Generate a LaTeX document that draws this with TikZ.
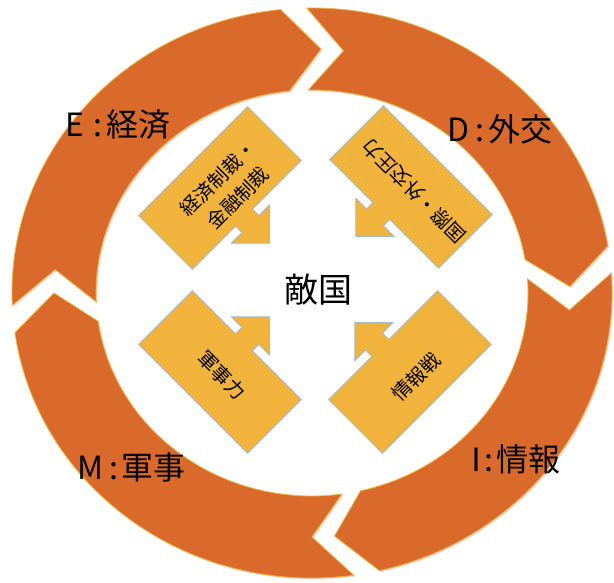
\documentclass[tikz,border=0pt]{standalone}
\usepackage{fontspec}
\setmainfont{Noto Sans CJK JP}
\definecolor{ringfill}{HTML}{D96A2B}
\definecolor{ringedge}{HTML}{F0B53E}
\definecolor{arrfill}{HTML}{F2B33C}
\definecolor{arredge}{HTML}{9FBBD0}
\newcommand\ringseg[2]{%
  \fill[black,opacity=0.12,shift={(1.5,1.5)}] (#1:300pt and 285pt)
    arc[start angle=#1, end angle=#2, x radius=300pt, y radius=285pt]
    -- ({#2-8}:258pt and 244pt) -- (#2:216pt and 203pt)
    arc[start angle=#2, end angle=#1, x radius=216pt, y radius=203pt]
    -- ({#1-8}:258pt and 244pt) -- cycle;
  \filldraw[ringpiece] (#1:300pt and 285pt)
    arc[start angle=#1, end angle=#2, x radius=300pt, y radius=285pt]
    -- ({#2-8}:258pt and 244pt) -- (#2:216pt and 203pt)
    arc[start angle=#2, end angle=#1, x radius=216pt, y radius=203pt]
    -- ({#1-8}:258pt and 244pt) -- cycle;}
% #1 centre, #2 pointing angle, #3 half length, #4 half width, #5 head offset along body
\newcommand\calloutarrow[5]{%
  \begin{scope}[shift={#1}, rotate=#2]
  \filldraw[inarrow] (-#4pt,-#3pt) -- (#4pt,-#3pt) -- (#4pt,#5pt-12pt)
    -- (#4pt+9pt,#5pt-12pt) -- (#4pt+9pt,#5pt-27pt) -- (#4pt+36pt,#5pt)
    -- (#4pt+9pt,#5pt+27pt) -- (#4pt+9pt,#5pt+12pt) -- (#4pt,#5pt+12pt)
    -- (#4pt,#3pt) -- (-#4pt,#3pt) -- cycle;
  \end{scope}}
\begin{document}
\begin{tikzpicture}[x=1pt,y=-1pt,
  ringpiece/.style={fill=ringfill,draw=ringedge,line width=0.8pt,line join=miter},
  inarrow/.style={fill=arrfill,draw=arredge,line width=0.8pt},
  ringlabel/.style={font=\fontsize{32}{36}\selectfont,inner sep=0pt,anchor=west},
  arrtext/.style={font=\fontsize{19.5}{28}\selectfont,inner sep=0pt,align=center},
  centertext/.style={font=\fontsize{34}{38}\selectfont,inner sep=0pt}]
\useasboundingbox (0,0) rectangle (614,583);
\fill[white] (0,0) rectangle (614,583);
% ring
\begin{scope}[shift={(312,293)}]
  \ringseg{182.5}{96}
  \ringseg{91}{9.5}
  \ringseg{4}{-77}
  \ringseg{-82}{-172}
\end{scope}
% inner callout arrows
\calloutarrow{(220,188)}{-45}{77}{38}{-4}
\calloutarrow{(411,187)}{-135}{77}{38}{-4}
\calloutarrow{(220,372)}{45}{77}{38}{4}
\calloutarrow{(410,372)}{135}{77}{38}{4}
% texts
\node[arrtext,rotate=45] (t1) at (228,188) {経済制裁・\\金融制裁};
\node[arrtext,rotate=135] (t2) at (414,191) {国際・外交圧力};
\node[arrtext,rotate=-45] (t3) at (222,375) {軍事力};
\node[arrtext,rotate=45] (t4) at (416,377) {情報戦};
\node[centertext] (enemy) at (318,290) {敵国};
\node[ringlabel] (le) at (65,125) {\makebox[0.9em][l]{E}:\hspace{0.1em}経済};
\node[ringlabel] (ld) at (447,129) {\makebox[0.9em][l]{D}:\hspace{0.1em}外交};
\node[ringlabel] (lm) at (77,467) {\makebox[1em][l]{M}:\hspace{0.1em}軍事};
\node[ringlabel] (li) at (460,459) {\makebox[0.75em][l]{Ⅰ}:\hspace{0.1em}情報};
\end{tikzpicture}
\end{document}
